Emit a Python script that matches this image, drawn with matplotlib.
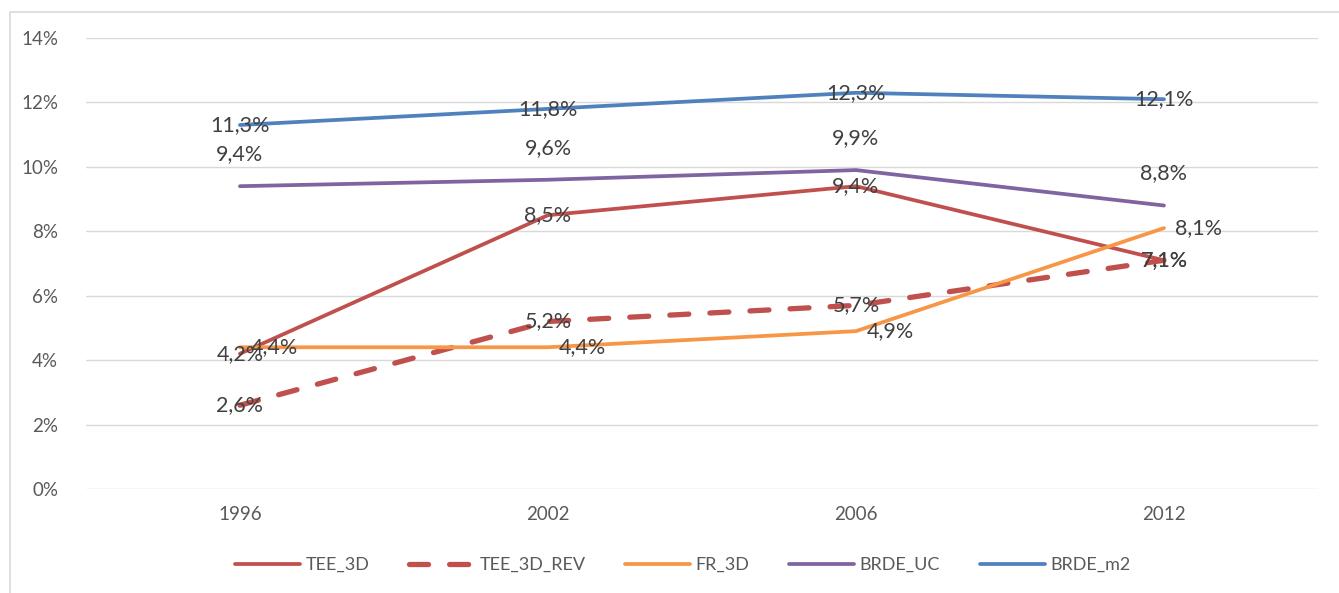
import matplotlib.pyplot as plt
import matplotlib.patches as patches
from matplotlib.ticker import FuncFormatter

years = ['1996', '2002', '2006', '2012']
tee_3d = [4.2, 8.5, 9.4, 7.1]
tee_3d_rev = [2.6, 5.2, 5.7, 7.1]
fr_3d = [4.4, 4.4, 4.9, 8.1]
brde_uc = [9.4, 9.6, 9.9, 8.8]
brde_m2 = [11.3, 11.8, 12.3, 12.1]

plt.rcParams['font.family'] = ['Lato', 'DejaVu Sans']


def pct(v):
    return f'{v:.1f}%'.replace('.', ',')


fig = plt.figure(figsize=(13.39, 5.93), dpi=100)
ax = fig.add_axes([0.0642, 0.1754, 0.9201, 0.7605])

x = list(range(len(years)))
series = [
    ('TEE_3D', tee_3d, '#C0504D', '-', 2.7, 'center'),
    ('TEE_3D_REV', tee_3d_rev, '#C0504D', (0, (3.6, 4.0)), 3.8, 'center'),
    ('FR_3D', fr_3d, '#F79646', '-', 2.7, 'right'),
    ('BRDE_UC', brde_uc, '#8064A2', '-', 2.7, 'above'),
    ('BRDE_m2', brde_m2, '#4F81BD', '-', 2.7, 'center'),
]

for name, vals, col, ls, lw, pos in series:
    yv = [v / 100 for v in vals]
    ax.plot(x, yv, color=col, linestyle=ls, linewidth=lw, label=name,
            solid_capstyle='round', dash_capstyle='round')
    for xi, v in zip(x, vals):
        if pos == 'center':
            ax.annotate(pct(v), (xi, v / 100), ha='center', va='center',
                        fontsize=15.5, color='#404040')
        elif pos == 'right':
            ax.annotate(pct(v), (xi, v / 100), xytext=(8, 0),
                        textcoords='offset points', ha='left', va='center',
                        fontsize=15.5, color='#404040')
        else:
            ax.annotate(pct(v), (xi, v / 100), xytext=(0, 23),
                        textcoords='offset points', ha='center', va='center',
                        fontsize=15.5, color='#404040')

ax.set_xlim(-0.5, 3.5)
ax.set_ylim(0, 0.14)
ax.set_yticks([i / 100 for i in range(0, 15, 2)])
ax.yaxis.set_major_formatter(FuncFormatter(lambda v, p: f'{v * 100:.0f}%'))
ax.set_xticks(x)
ax.set_xticklabels(years)
ax.grid(axis='y', color='#D9D9D9', linewidth=1)
ax.set_axisbelow(True)
for s in ax.spines.values():
    s.set_visible(False)
ax.tick_params(length=0, labelsize=13.5, colors='#595959', pad=12)
ax.tick_params(axis='y', pad=20)

fig.legend(loc='center', bbox_to_anchor=(0.51, 0.047), ncol=5, frameon=False,
           fontsize=13, labelcolor='#595959', handlelength=3.6,
           columnspacing=2.2, handletextpad=0.3)

fig.patches.append(patches.Rectangle((10 / 1339, -0.02), 1.0, 1 - 12 / 593 + 0.02,
                                     transform=fig.transFigure, fill=False,
                                     edgecolor='#D9D9D9', linewidth=1.2))

fig.savefig('out.png', dpi=100)
